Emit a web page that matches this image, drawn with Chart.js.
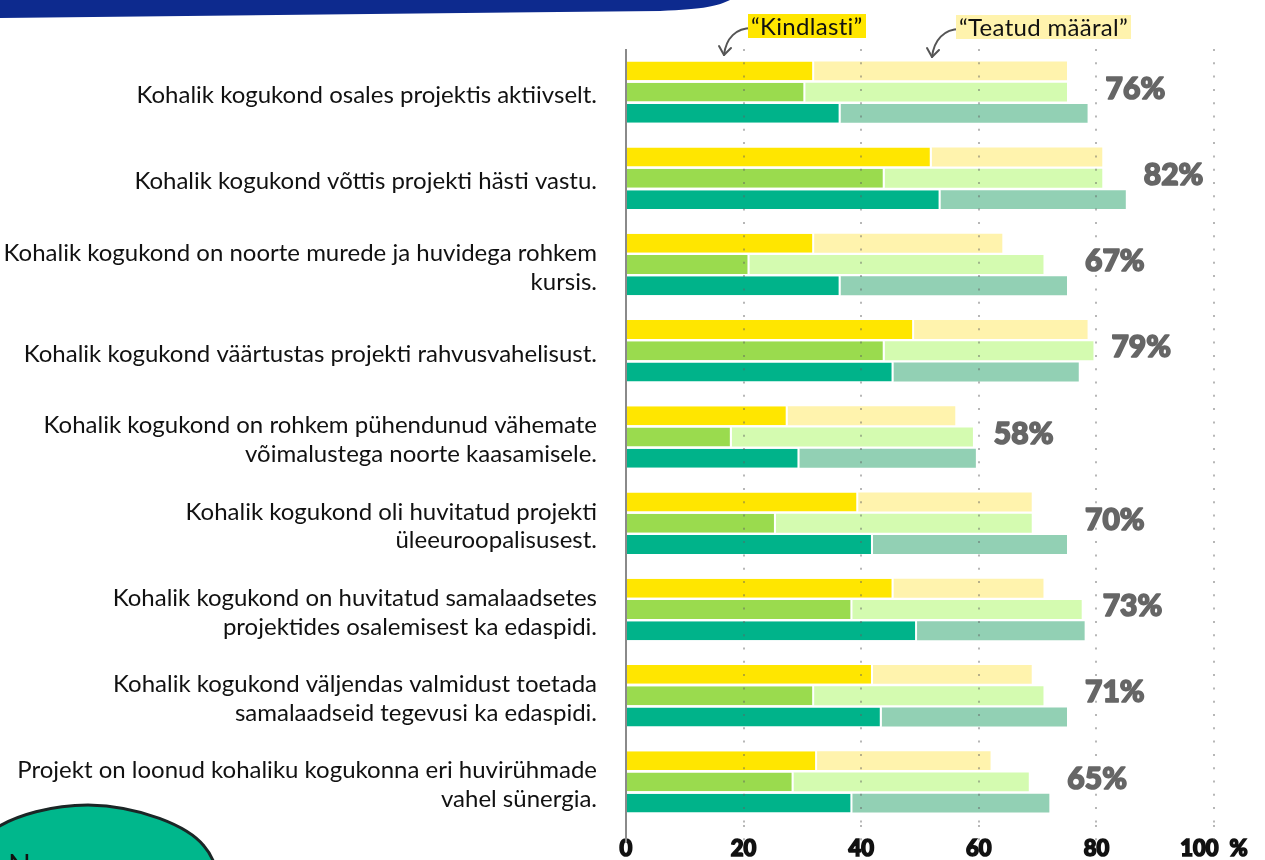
<!DOCTYPE html>
<html lang="et">
<head>
<meta charset="utf-8">
<title>Kohalik kogukond</title>
<script src="https://cdn.jsdelivr.net/npm/chart.js@4.4.1/dist/chart.umd.min.js"></script>
<style>
  html, body { margin: 0; padding: 0; background: #fff; overflow: hidden; }
  #wrap { position: relative; width: 1265px; height: 860px; overflow: hidden; }
  #chart { position: absolute; left: 0; top: 0; }
  #deco { position: absolute; left: 0; top: 0; pointer-events: none; }
  .tag { position: absolute; font-family: Lato, sans-serif; font-size: 24px; line-height: 24px; color: #111; padding: 0 3px; letter-spacing: 0.3px; }
  .blobText { position: absolute; left: 8px; top: 846px; font-family: Lato, sans-serif; font-size: 30px; color: #111; }
</style>
</head>
<body>
<div id="wrap">
  <canvas id="chart" width="1265" height="860"></canvas>
  <svg id="deco" width="1265" height="860">
    <!-- top banner -->
    <path d="M0,0 L730,0 C718,6 705,9 660,11 L0,18 Z" fill="#0d2a8e"/>
    <!-- arrows to legend tags -->
    <g fill="none" stroke="#555" stroke-width="2" stroke-linecap="round">
      <path d="M752,28 C736,28 726,38 724,55"/>
      <path d="M724,55 L719,46 M724,55 L731,48"/>
      <path d="M960,29 C944,29 934,40 932,57"/>
      <path d="M932,57 L927,48 M932,57 L939,50"/>
    </g>
    <!-- bottom-left blob -->
    <path d="M-10,832 C15,814 55,805 88,805 C140,806 188,826 204,846 C211,854 215,862 217,875 L-10,875 Z"
          fill="#00b78c" stroke="#1b2626" stroke-width="3"/>
  </svg>
  <div class="tag" style="left:748px; top:14px; background:#ffe600;">“Kindlasti”</div>
  <div class="tag" style="left:956px; top:15px; background:#fff3ad;">“Teatud määral”</div>
  <div class="blobText">Noorsoo</div>
</div>

<script>
// --- DATA ---
const categories = [
    "Kohalik kogukond osales projektis aktiivselt.",
    "Kohalik kogukond võttis projekti hästi vastu.",
    ["Kohalik kogukond on noorte murede ja huvidega rohkem", "kursis."],
    "Kohalik kogukond väärtustas projekti rahvusvahelisust.",
    ["Kohalik kogukond on rohkem pühendunud vähemate", "võimalustega noorte kaasamisele."],
    ["Kohalik kogukond oli huvitatud projekti", "üleeuroopalisusest."],
    ["Kohalik kogukond on huvitatud samalaadsetes", "projektides osalemisest ka edaspidi."],
    ["Kohalik kogukond väljendas valmidust toetada", "samalaadseid tegevusi ka edaspidi."],
    ["Projekt on loonud kohaliku kogukonna eri huvirühmade", "vahel sünergia."]
];

// "Kindlasti" (dark) and "Teatud määral" (light) per series
const yellowKindlasti = [32, 52, 32, 49, 27.5, 39.5, 45.5, 42, 32.5];
const yellowTeatud    = [43, 29, 32, 29.5, 28.5, 29.5, 25.5, 27, 29.5];
const greenKindlasti  = [30.5, 44, 21, 44, 18, 25.5, 38.5, 32, 28.5];
const greenTeatud     = [44.5, 37, 50, 35.5, 41, 43.5, 39, 39, 40];
const tealKindlasti   = [36.5, 53.5, 36.5, 45.5, 29.5, 42, 49.5, 43.5, 38.5];
const tealTeatud      = [42, 31.5, 38.5, 31.5, 30, 33, 28.5, 31.5, 33.5];

const totalPct = [76, 82, 67, 79, 58, 70, 73, 71, 65];
const xTicks = [0, 20, 40, 60, 80, 100];

const dotDash = [2, 11.3];

// percent labels to the right of each group
const pctPlugin = {
    id: 'pctLabels',
    afterDraw(chart) {
        const { ctx, scales: { x, y } } = chart;
        ctx.save();
        ctx.font = '900 30px Lato, sans-serif';
        ctx.fillStyle = '#666';
        ctx.strokeStyle = '#666';
        ctx.lineWidth = 1.6;
        ctx.lineJoin = 'round';
        ctx.textAlign = 'left';
        ctx.textBaseline = 'middle';
        totalPct.forEach((p, i) => {
            const longest = Math.max(
                yellowKindlasti[i] + yellowTeatud[i],
                greenKindlasti[i] + greenTeatud[i],
                tealKindlasti[i] + tealTeatud[i]
            );
            const px = x.getPixelForValue(longest) + 18;
            const py = y.getPixelForValue(i) - 3;
            ctx.strokeText(p + '%', px, py);
            ctx.fillText(p + '%', px, py);
        });
        ctx.restore();
    }
};

const darkBorder = { top: 0, right: 2, bottom: 0, left: 0 };

function seg(label, data, color, stack, dark) {
    return {
        label, data, stack,
        backgroundColor: color,
        borderColor: '#fff',
        borderWidth: dark ? darkBorder : 0,
        borderSkipped: false,
        barPercentage: 0.89,
        categoryPercentage: 0.74
    };
}

new Chart(document.getElementById('chart'), {
    type: 'bar',
    data: {
        labels: categories,
        datasets: [
            seg('Kindlasti', yellowKindlasti, '#ffe600', 'kollane', true),
            seg('Teatud määral', yellowTeatud, '#fff3ad', 'kollane', false),
            seg('Kindlasti', greenKindlasti, '#9adb4e', 'roheline', true),
            seg('Teatud määral', greenTeatud, '#d4fbb0', 'roheline', false),
            seg('Kindlasti', tealKindlasti, '#00b38a', 'turkiis', true),
            seg('Teatud määral', tealTeatud, '#92d0b4', 'turkiis', false)
        ]
    },
    options: {
        indexAxis: 'y',
        responsive: false,
        animation: false,
        layout: { padding: { top: 49, right: 51, bottom: 0, left: 0 } },
        plugins: { legend: { display: false }, tooltip: { enabled: false } },
        scales: {
            x: {
                stacked: true,
                min: 0,
                max: 100,
                afterBuildTicks: (s) => { s.ticks = xTicks.map(v => ({ value: v })); },
                afterFit: (s) => { s.height = 35; },
                ticks: {
                    padding: -6,
                    color: '#111',
                    textStrokeColor: '#111',
                    textStrokeWidth: 1.5,
                    font: { family: 'Lato', size: 22, weight: '900' },
                    callback: (v) => v === 100 ? '100\u2002%' : v
                },
                grid: {
                    z: 1,
                    lineWidth: 2,
                    tickLength: 17,
                    color: (c) => c.tick && c.tick.value === 0 ? '#8a8a8a' : 'rgba(95,95,95,0.45)',
                    tickColor: (c) => c.tick && c.tick.value === 0 ? '#8a8a8a' : 'rgba(95,95,95,0.45)',
                    tickBorderDash: (c) => c.tick && c.tick.value === 0 ? [] : dotDash
                },
                border: {
                    display: false,
                    dash: (c) => c.tick && c.tick.value === 0 ? [] : dotDash
                }
            },
            y: {
                stacked: true,
                afterFit: (s) => { s.width = 626; s.paddingTop = 0; s.paddingBottom = 0; },
                grid: { display: false },
                border: { display: false },
                ticks: {
                    padding: 21,
                    labelOffset: 3,
                    color: '#111',
                    font: { family: 'Lato', size: 24, lineHeight: 1.2 }
                }
            }
        }
    },
    plugins: [pctPlugin]
});
</script>
</body>
</html>
